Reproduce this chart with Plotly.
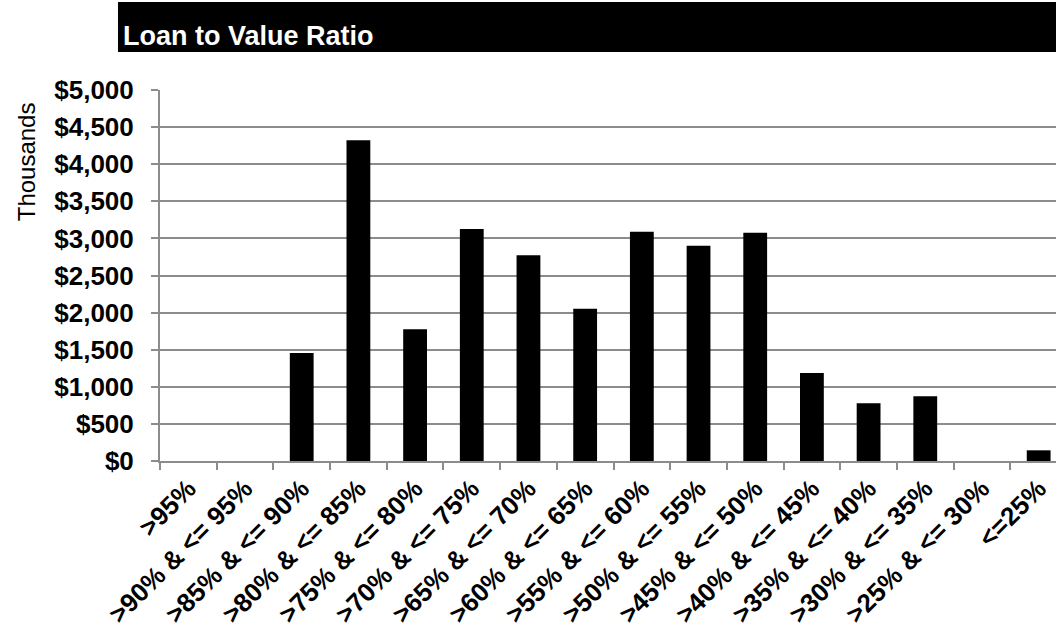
import plotly.graph_objects as go

categories = [">95%", ">90% & <= 95%", ">85% & <= 90%", ">80% & <= 85%",
              ">75% & <= 80%", ">70% & <= 75%", ">65% & <= 70%", ">60% & <= 65%",
              ">55% & <= 60%", ">50% & <= 55%", ">45% & <= 50%", ">40% & <= 45%",
              ">35% & <= 40%", ">30% & <= 35%", ">25% & <= 30%", "<=25%"]
values = [0, 0, 1455, 4322, 1775, 3127, 2772, 2053,
          3091, 2902, 3077, 1186, 778, 872, 0, 144]
title_text = "Loan to Value Ratio"
y_title = "Thousands"

FONT = "Liberation Sans, Arial, sans-serif"

fig = go.Figure(go.Bar(
    x=categories, y=values,
    marker=dict(color="#000000", line=dict(width=0)),
    width=0.42,
))

fig.update_layout(
    width=1056, height=624,
    margin=dict(l=160, r=0, t=90, b=163, autoexpand=False),
    paper_bgcolor="white", plot_bgcolor="white",
    showlegend=False,
    font=dict(family=FONT, color="black"),
    shapes=[dict(type="rect", xref="paper", yref="paper",
                 x0=-0.0469, x1=1.0, y0=1.1024, y1=1.2372,
                 fillcolor="black", line=dict(width=0), layer="above")],
    annotations=[
        dict(text=title_text, xref="paper", yref="paper",
             x=-0.0435, y=1.1456, xanchor="left", yanchor="middle",
             showarrow=False,
             font=dict(family=FONT, size=27, color="white", weight="bold")),
        dict(text=y_title, xref="paper", yref="paper",
             x=-0.1488, y=0.807, xanchor="center", yanchor="middle",
             textangle=-90, showarrow=False,
             font=dict(family=FONT, size=24, color="black")),
    ],
)

fig.update_xaxes(
    type="category",
    range=[-0.5, 15.306],
    tickangle=-45,
    tickfont=dict(family=FONT, size=26, color="black", weight="bold"),
    ticks="outside", ticklen=7, tickwidth=2, tickcolor="#8c8c8c",
    tickson="boundaries",
    showline=True, linecolor="#8c8c8c", linewidth=2,
    showgrid=False, automargin=False,
)

fig.update_yaxes(
    range=[0, 5000], dtick=500,
    tickprefix="$", tickformat=",.0f",
    tickfont=dict(family=FONT, size=26, color="black", weight="bold"),
    ticks="outside", ticklen=7, tickwidth=2, tickcolor="#8c8c8c",
    ticklabelstandoff=12,
    showline=True, linecolor="#8c8c8c", linewidth=2,
    showgrid=True, gridcolor="#8c8c8c", gridwidth=2,
    zeroline=False, automargin=False,
)

fig.write_html("out.html")
